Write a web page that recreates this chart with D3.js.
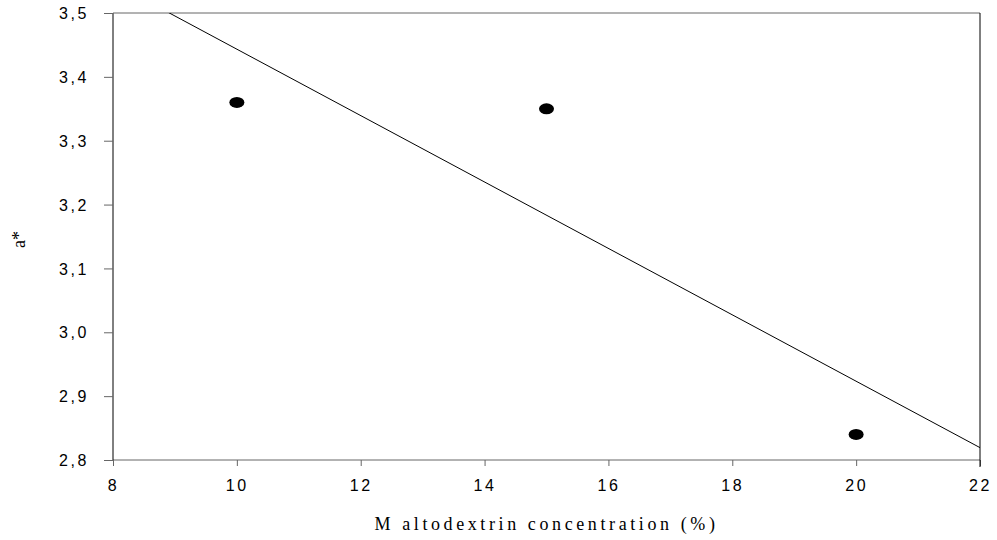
<!DOCTYPE html>
<html>
<head>
<meta charset="utf-8">
<script src="https://cdn.jsdelivr.net/npm/d3@7"></script>
<style>
  body { margin: 0; background: #fff; }
  .tick text { font-family: "Liberation Sans", Arial, sans-serif; font-size: 16px; letter-spacing: 2.6px; fill: #000; }
</style>
</head>
<body>
<div id="graf"></div>
<script>
// datos
const concentracion = [10, 15, 20];
const aStar = [3.36, 3.35, 2.84];
const xTicks = [8, 10, 12, 14, 16, 18, 20, 22];
const yTicks = [2.8, 2.9, 3.0, 3.1, 3.2, 3.3, 3.4, 3.5];

const anchoTotal = 997, altoTotal = 540;
const margins = { top: 13, right: 17, bottom: 80, left: 113 };
const ancho = anchoTotal - margins.left - margins.right;
const alto = altoTotal - margins.top - margins.bottom;

const svg = d3.select("#graf").append("svg")
    .attr("width", anchoTotal)
    .attr("height", altoTotal);
const g = svg.append("g").attr("transform", `translate(${margins.left}, ${margins.top})`);

// escaladores
const x = d3.scaleLinear().domain([8, 22]).range([0, ancho]);
const y = d3.scaleLinear().domain([2.8, 3.5]).range([alto, 0]);

// clip
svg.append("defs").append("clipPath").attr("id", "clip")
    .append("rect").attr("width", ancho).attr("height", alto);

// ejes
const fmt = d => d3.format(".1f")(d).replace(".", ",");
const xAxis = g.append("g").attr("transform", `translate(0, ${alto})`)
    .call(d3.axisBottom(x).tickValues(xTicks).tickSize(6).tickPadding(14));
const yAxis = g.append("g")
    .call(d3.axisLeft(y).tickValues(yTicks).tickFormat(fmt).tickSize(9).tickPadding(15));
xAxis.select(".domain").attr("stroke", "#666").attr("d", `M0,0H${ancho}`);
xAxis.selectAll(".tick line").attr("stroke", "#666");
yAxis.select(".domain").attr("stroke", "#000").attr("d", `M0,${alto}V0`);
yAxis.selectAll(".tick line").attr("stroke", "#666");
yAxis.selectAll(".tick text").attr("dy", "0.35em");

// marco superior y derecho
g.append("line").attr("x1", 0).attr("x2", ancho).attr("y1", 0).attr("y2", 0).attr("stroke", "#666");
g.append("line").attr("x1", ancho).attr("x2", ancho).attr("y1", 0).attr("y2", alto + 7).attr("stroke", "#000");

// regresion lineal
const mx = d3.mean(concentracion), my = d3.mean(aStar);
const pend = d3.sum(concentracion, (d, i) => (d - mx) * (aStar[i] - my)) / d3.sum(concentracion, d => (d - mx) ** 2);
const linea = x.domain().map(xv => [xv, my + pend * (xv - mx)]);
g.append("path")
    .attr("clip-path", "url(#clip)")
    .attr("d", d3.line().x(d => x(d[0])).y(d => y(d[1]))(linea))
    .attr("fill", "none").attr("stroke", "#000").attr("stroke-width", 1);

// puntos
g.selectAll("ellipse").data(concentracion).enter().append("ellipse")
    .attr("cx", d => x(d))
    .attr("cy", (d, i) => y(aStar[i]))
    .attr("rx", 7.5).attr("ry", 5.5)
    .attr("fill", "#000");

// titulos
svg.append("text")
    .attr("x", margins.left + ancho / 2).attr("y", 530)
    .attr("text-anchor", "middle")
    .style("font-family", "'Liberation Serif', 'Times New Roman', serif")
    .style("font-size", "18px").style("letter-spacing", "3.6px")
    .text("M altodextrin concentration (%)");
svg.append("text")
    .attr("transform", `translate(25, ${margins.top + alto / 2 + 3}) rotate(-90)`)
    .attr("text-anchor", "middle")
    .style("font-family", "'Liberation Serif', 'Times New Roman', serif")
    .style("font-size", "18px")
    .text("a*");
</script>
</body>
</html>
